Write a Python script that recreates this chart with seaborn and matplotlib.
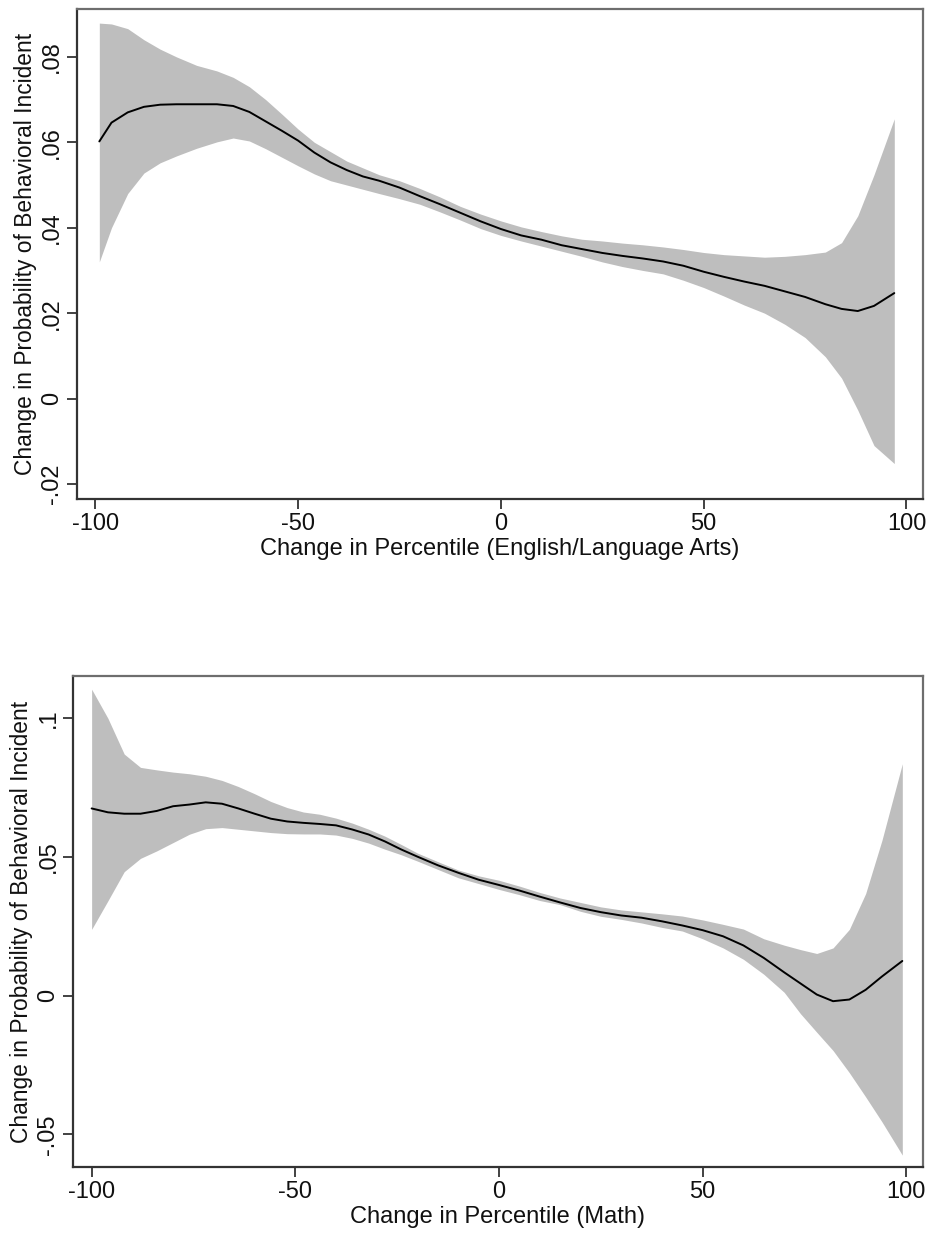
"""
Efeito da mudança de percentil na probabilidade de incidente comportamental
(ELA e Matemática), com banda de confiança.
"""

import matplotlib
matplotlib.use("Agg")
import matplotlib.pyplot as plt
import seaborn as sns

# --- dados ---
ela_x = [-99, -96, -92, -88, -84, -80, -75, -70, -66, -62, -58, -54, -50, -46,
         -42, -38, -34, -30, -25, -20, -15, -10, -5, 0, 5, 10, 15, 20, 25, 30,
         35, 40, 45, 50, 55, 60, 65, 70, 75, 80, 84, 88, 92, 97]
ela_fit = [.0602, .0646, .0670, .0683, .0688, .0689, .0689, .0689, .0685, .0671,
           .0649, .0627, .0604, .0576, .0553, .0535, .0520, .0510, .0494, .0474,
           .0455, .0435, .0415, .0397, .0382, .0372, .0359, .0350, .0341, .0334,
           .0328, .0321, .0311, .0297, .0285, .0274, .0264, .0251, .0238, .0221,
           .0210, .0205, .0217, .0247]
ela_hi = [.0879, .0877, .0866, .0840, .0818, .0800, .0780, .0767, .0752, .0730,
          .0700, .0666, .0631, .0600, .0578, .0556, .0540, .0524, .0510, .0492,
          .0472, .0450, .0432, .0416, .0402, .0391, .0381, .0373, .0369, .0364,
          .0360, .0355, .0349, .0342, .0337, .0334, .0331, .0333, .0337, .0343,
          .0365, .0428, .0524, .0655]
ela_lo = [.0320, .0400, .0480, .0528, .0552, .0568, .0586, .0601, .0610, .0603,
          .0585, .0565, .0545, .0526, .0510, .0500, .0490, .0480, .0468, .0455,
          .0437, .0418, .0398, .0382, .0369, .0357, .0345, .0333, .0320, .0309,
          .0300, .0292, .0277, .0260, .0240, .0219, .0200, .0174, .0143, .0098,
          .0048, -.0027, -.0110, -.0152]

math_x = [-100, -96, -92, -88, -84, -80, -76, -72, -68, -64, -60, -56, -52, -48,
          -44, -40, -36, -32, -28, -24, -20, -15, -10, -5, 0, 5, 10, 15, 20, 25,
          30, 35, 40, 45, 50, 55, 60, 65, 70, 74, 78, 82, 86, 90, 94, 99]
math_fit = [.0675, .0661, .0656, .0656, .0666, .0683, .0689, .0697, .0692, .0675,
            .0656, .0638, .0628, .0623, .0619, .0614, .0599, .0581, .0556, .0527,
            .0501, .0470, .0443, .0418, .0399, .0379, .0357, .0336, .0316, .0301,
            .0289, .0281, .0268, .0253, .0236, .0214, .0181, .0136, .0084, .0044,
            .0004, -.0020, -.0014, .0021, .0069, .0125]
math_hi = [.1105, .1000, .0871, .0823, .0814, .0806, .0800, .0791, .0776, .0754,
           .0728, .0700, .0678, .0662, .0654, .0640, .0622, .0600, .0575, .0545,
           .0514, .0483, .0453, .0432, .0416, .0395, .0372, .0352, .0336, .0320,
           .0309, .0302, .0295, .0287, .0273, .0257, .0240, .0205, .0182, .0166,
           .0152, .0172, .0239, .0368, .0560, .0836]
math_lo = [.0239, .0342, .0447, .0495, .0522, .0552, .0582, .0602, .0606, .0600,
           .0594, .0588, .0584, .0583, .0583, .0579, .0567, .0550, .0528, .0508,
           .0485, .0455, .0425, .0404, .0383, .0364, .0343, .0328, .0304, .0286,
           .0275, .0262, .0246, .0233, .0205, .0172, .0131, .0077, .0012, -.0065,
           -.0132, -.0198, -.0278, -.0365, -.0455, -.0575]

x_ticks = [-100, -50, 0, 50, 100]
ela_yticks = [-.02, 0, .02, .04, .06, .08]
ela_ylabels = ["-.02", "0", ".02", ".04", ".06", ".08"]
math_yticks = [-.05, 0, .05, .1]
math_ylabels = ["-.05", "0", ".05", ".1"]

YLABEL = "Change in Probability of Behavioral Incident"

sns.set_style("ticks")
plt.rcParams["font.family"] = ["Liberation Sans", "DejaVu Sans"]


def draw_panel(ax, x, fit, lo, hi, yticks, ylabels, ylim, xlabel):
    ax.fill_between(x, lo, hi, color="#bebebe", linewidth=0)
    sns.lineplot(x=x, y=fit, ax=ax, color="black", linewidth=1.4)
    ax.set_xlim(-104.5, 104)
    ax.set_ylim(*ylim)
    ax.set_xticks(x_ticks)
    ax.set_xticklabels([str(t) for t in x_ticks])
    ax.set_yticks(yticks)
    ax.set_yticklabels(ylabels, rotation=90, va="center")
    ax.tick_params(axis="both", labelsize=17, length=7, width=1.3,
                   color="#333333", labelcolor="#111111", pad=3)
    ax.set_xlabel(xlabel, fontsize=17, color="#111111", labelpad=2)
    ax.set_ylabel(YLABEL, fontsize=16.4, color="#111111", labelpad=3)
    for side in ["left", "bottom"]:
        ax.spines[side].set_color("#333333")
        ax.spines[side].set_linewidth(1.6)
    for side in ["top", "right"]:
        ax.spines[side].set_visible(True)
        ax.spines[side].set_color("#6e6e6e")
        ax.spines[side].set_linewidth(1.6)


fig = plt.figure(figsize=(9.29, 12.33), dpi=100)
ax1 = fig.add_axes([0.0829, 0.5953, 0.9103, 0.3974])
ax2 = fig.add_axes([0.0789, 0.0535, 0.9143, 0.3979])

draw_panel(ax1, ela_x, ela_fit, ela_lo, ela_hi, ela_yticks, ela_ylabels,
           (-0.0235, 0.0912), "Change in Percentile (English/Language Arts)")
draw_panel(ax2, math_x, math_fit, math_lo, math_hi, math_yticks, math_ylabels,
           (-0.0618, 0.1151), "Change in Percentile (Math)")

fig.savefig("out.png", dpi=100)
